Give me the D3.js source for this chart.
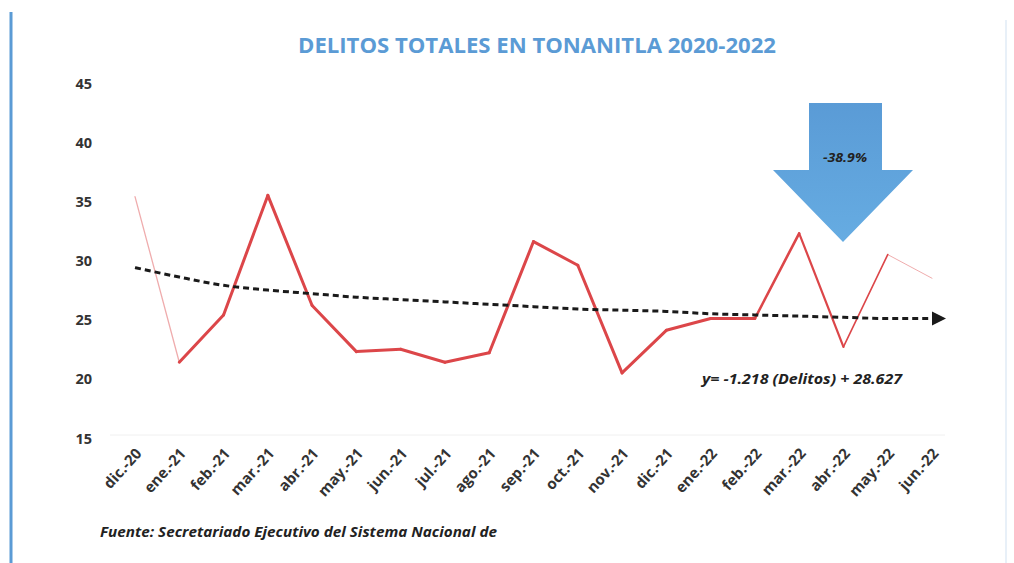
<!DOCTYPE html>
<html><head><meta charset="utf-8">
<script src="https://cdn.jsdelivr.net/npm/d3@7"></script>
<style>body{margin:0;background:#fff}svg{display:block}</style>
</head><body>
<svg id="c" width="1014" height="563"></svg>
<script>
const categories = ["dic.-20","ene.-21","feb.-21","mar.-21","abr.-21","may.-21","jun.-21","jul.-21","ago.-21","sep.-21","oct.-21","nov.-21","dic.-21","ene.-22","feb.-22","mar.-22","abr.-22","may.-22","jun.-22"];
const delitos = [35.4,21.4,25.4,35.5,26.2,22.3,22.5,21.4,22.2,31.6,29.6,20.5,24.1,25.1,25.1,32.3,22.7,30.5,28.5];
const tendencia = [29.4,28.6,27.9,27.5,27.2,26.9,26.7,26.5,26.3,26.1,25.9,25.8,25.7,25.5,25.4,25.3,25.2,25.1,25.1];
const yTicks = [15,20,25,30,35,40,45];
const title = "DELITOS TOTALES EN TONANITLA 2020-2022";
const changeLabel = "-38.9%";
const equation = "y= -1.218 (Delitos) + 28.627";
const source = "Fuente: Secretariado Ejecutivo del Sistema Nacional de";

const svg = d3.select("#c");
const font = "'Open Sans','Noto Sans',sans-serif";

// left blue border
svg.append("line").attr("x1",11).attr("x2",11).attr("y1",12).attr("y2",563)
  .attr("stroke","#5b9bd5").attr("stroke-width",3);
svg.append("line").attr("x1",1006).attr("x2",1006).attr("y1",20).attr("y2",563)
  .attr("stroke","#e8f0f8").attr("stroke-width",2);

const x = d3.scalePoint().domain(categories).range([135, 932]);
const y = d3.scaleLinear().domain([15,45]).range([438, 83]);

// title
svg.append("text").attr("x",537).attr("y",53).attr("text-anchor","middle")
  .attr("font-family",font).attr("font-weight","bold").attr("font-size",22)
  .attr("fill","#5b9bd5").attr("textLength",478).attr("lengthAdjust","spacingAndGlyphs").text(title);

// faint baseline
svg.append("line").attr("x1",110).attr("x2",945).attr("y1",y(15)-3).attr("y2",y(15)-3)
  .attr("stroke","#f0f0f0").attr("stroke-width",1);

// y axis
const yAxis = d3.axisLeft(y).tickValues(yTicks).tickSize(0).tickPadding(0);
const gy = svg.append("g").attr("transform","translate(92,0)").call(yAxis);
gy.select(".domain").remove();
gy.selectAll("text").attr("font-family",font).attr("font-weight","bold")
  .attr("font-size",14.5).attr("fill","#333").attr("dy","0.35em");

// x axis
const xAxis = d3.axisBottom(x).tickSize(0).tickPadding(0);
const gx = svg.append("g").attr("transform",`translate(0,${y(15)})`).call(xAxis);
gx.select(".domain").remove();
gx.selectAll("text").attr("font-family",font).attr("font-weight","bold")
  .attr("font-size",15).attr("fill","#333")
  .attr("text-anchor","end").attr("dy",null).attr("y",0)
  .attr("transform","translate(7,16) rotate(-48)");

// red line, drawn segment by segment with varying stroke (scanned appearance)
const widths = [1.3,3,3,3,3,3,3,3,3,3,3,3,3,3,2.6,2.2,1.6,1];
const opac =   [0.45,1,1,1,1,1,1,1,1,1,1,1,1,1,1,1,1,0.45];
const lineGen = d3.line().x(d=>x(d.c)).y(d=>y(d.v));
const pts = categories.map((c,i)=>({c, v: delitos[i]}));
for (let i=0;i<pts.length-1;i++){
  svg.append("path").attr("d", lineGen([pts[i],pts[i+1]]))
    .attr("fill","none").attr("stroke","#dc4649").attr("stroke-width",widths[i])
    .attr("stroke-opacity",opac[i]).attr("stroke-linecap","round").attr("stroke-linejoin","round");
}

// trend line
const tx = x(categories[categories.length-1]);
const tline = d3.line().x(d=>d.c ? x(d.c) : d.x).y(d=>y(d.v)).curve(d3.curveMonotoneX);
const tdata = categories.map((c,i)=>({c, v: tendencia[i]})).concat([{x: tx+2, v: tendencia[tendencia.length-1]}]);
svg.append("path").attr("d", tline(tdata)).attr("fill","none").attr("stroke","#1a1a1a")
  .attr("stroke-width",3).attr("stroke-dasharray","6,4");
const ay = y(tendencia[tendencia.length-1]);
svg.append("path").attr("d",`M${tx},${ay-7}L${tx+14},${ay}L${tx},${ay+7}Z`).attr("fill","#1a1a1a");

// big blue arrow
const grad = svg.append("defs").append("linearGradient").attr("id","bg")
  .attr("x1",0).attr("x2",0).attr("y1",0).attr("y2",1);
grad.append("stop").attr("offset","0%").attr("stop-color","#5a9bd6");
grad.append("stop").attr("offset","100%").attr("stop-color","#66ace2");
svg.append("path")
  .attr("d","M809,103L882,103L882,170L913,170L843,242L773,170L809,170Z")
  .attr("fill","url(#bg)");
svg.append("text").attr("x",845).attr("y",162).attr("text-anchor","middle")
  .attr("font-family",font).attr("font-style","italic").attr("font-weight","bold")
  .attr("font-size",12.5).attr("fill","#222").attr("textLength",44)
  .attr("lengthAdjust","spacingAndGlyphs").text(changeLabel);

// equation
svg.append("text").attr("x",702).attr("y",384)
  .attr("font-family",font).attr("font-style","italic").attr("font-weight","bold")
  .attr("font-size",14.5).attr("fill","#222").attr("textLength",200)
  .attr("lengthAdjust","spacingAndGlyphs").text(equation);

// source
svg.append("text").attr("x",100).attr("y",537)
  .attr("font-family",font).attr("font-style","italic").attr("font-weight","bold")
  .attr("font-size",15).attr("fill","#222").attr("textLength",397)
  .attr("lengthAdjust","spacingAndGlyphs").text(source);
</script>
</body></html>
